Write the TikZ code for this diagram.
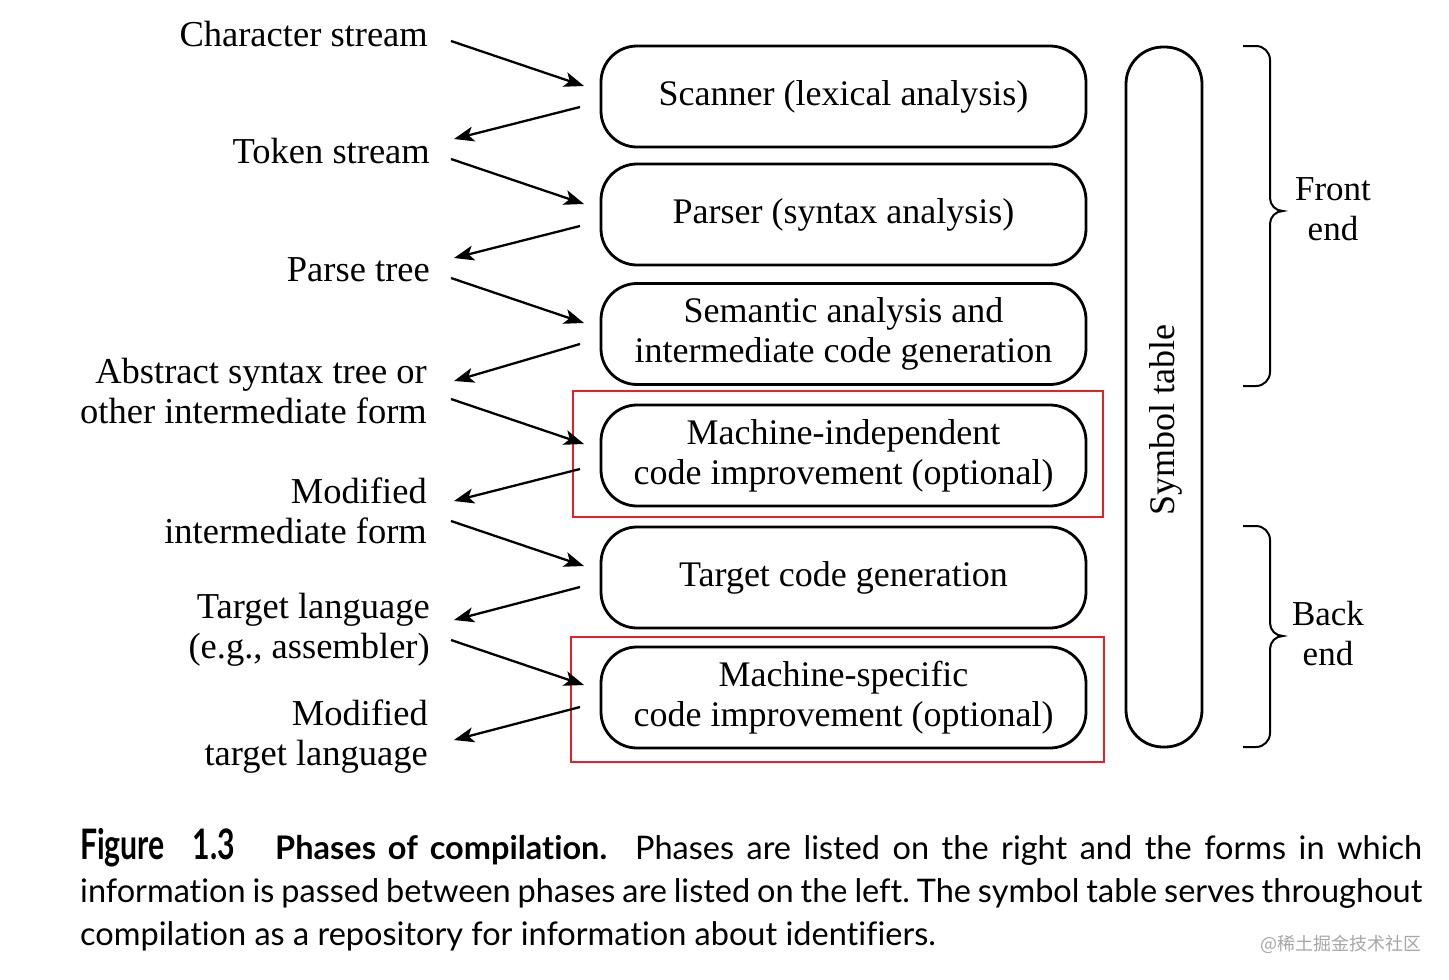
\documentclass[tikz,border=0pt]{standalone}
\usepackage{fontspec}
\setmainfont{Liberation Serif}
\newfontfamily\capfont[Ligatures=NoCommon]{Lato}
\newfontfamily\figfont[FakeStretch=0.72]{Lato}
\newfontfamily\cjkfont{Noto Sans CJK SC}
\usetikzlibrary{arrows.meta}
\definecolor{hlred}{RGB}{228,32,40}
\frenchspacing
\begin{document}
\begin{tikzpicture}[x=1pt,y=-1pt,
  phase/.style={draw,line width=2.8pt,rounded corners=36pt,minimum width=485pt,minimum height=101pt,align=center,inner sep=0pt,font=\fontsize{36}{40}\selectfont},
  lbl/.style={anchor=east,align=right,inner sep=0pt,font=\fontsize{36.5}{40}\selectfont},
  flow/.style={line width=2.3pt,-{Stealth[length=20pt,width=15pt,inset=5pt]}},
  hl/.style={draw=hlred,line width=2.2pt},
  brace/.style={line width=2pt},
  side/.style={align=center,inner sep=0pt,font=\fontsize{35}{40}\selectfont},
  capline/.style={anchor=base west,inner sep=0pt,font=\fontsize{32.5}{43}\selectfont\capfont}]
\useasboundingbox (0,0) rectangle (1449,980);
% phases
\node[phase] (scan) at (843.5,96.5) {Scanner (lexical analysis)};
\node[phase] (parse) at (843.5,214.5) {Parser (syntax analysis)};
\node[phase] (sem) at (843.5,334) {Semantic analysis and\\intermediate code generation};
\node[phase] (mind) at (843.5,455.5) {Machine-independent\\code improvement (optional)};
\node[phase] (tgt) at (843.5,577.5) {Target code generation};
\node[phase] (mspec) at (843.5,697.5) {Machine-specific\\code improvement (optional)};
% highlight rectangles
\node[hl,minimum width=530pt,minimum height=126pt] (hl1) at (838,454) {};
\node[hl,minimum width=533pt,minimum height=125pt] (hl2) at (837.5,699.5) {};
% symbol table
\node[draw,line width=2.8pt,rounded corners=37pt,minimum width=76pt,minimum height=700pt] (sym) at (1164,397) {};
\node[rotate=90,font=\fontsize{36}{40}\selectfont] (symt) at (1166,420) {Symbol table};
% labels
\node[lbl] (l1) at (428,34) {Character stream};
\node[lbl] (l2) at (430,151) {Token stream};
\node[lbl] (l3) at (430,270) {Parse tree};
\node[lbl] (l4) at (427,391) {Abstract syntax tree or\\other intermediate form};
\node[lbl] (l5) at (427,511) {Modified\\intermediate form};
\node[lbl] (l6) at (430,630) {Target language\\(e.g., assembler)};
\node[lbl] (l7) at (428,737) {Modified\\target language};
% arrow end points
\foreach \i/\dy in {1/0,2/118,3/237,4/358,5/480,6/599}{
  \coordinate (in\i s) at (451,41+\dy);
  \coordinate (in\i e) at (584,86+\dy);
}
\foreach \i/\ya/\yb in {1/107/139,2/226/258,3/344/381,4/469/501,5/587/620,6/707/740}{
  \coordinate (out\i s) at (580,\ya);
  \coordinate (out\i e) at (454,\yb);
}
\foreach \i in {1,...,6}{
  \draw[flow] (in\i s) -- (in\i e);
  \draw[flow] (out\i s) -- (out\i e);
}
% braces
\draw[brace] (1243,46) -- (1256,46) to[out=0,in=90] (1270,60) -- (1270,198) to[out=-90,in=180] (1283,211) to[out=180,in=90] (1270,224) -- (1270,372) to[out=-90,in=0] (1256,386) -- (1243,386);
\draw[brace] (1243,526) -- (1256,526) to[out=0,in=90] (1270,540) -- (1270,623) to[out=-90,in=180] (1283,636) to[out=180,in=90] (1270,649) -- (1270,733) to[out=-90,in=0] (1256,747) -- (1243,747);
\node[side] (fe) at (1333,209) {Front\\end};
\node[side] (be) at (1328,634) {Back\\end};
% caption
\node[capline] (cap1) at (80,859)
  {\makebox[1342pt][s]{{\figfont\bfseries\fontsize{42}{43}\selectfont Figure\hspace{28pt}1.3}\hspace{40pt}{\bfseries Phases of compilation.}\hspace{28pt}Phases are listed on the right and the forms in which}};
\node[capline] (cap2) at (80,902)
  {\makebox[1342pt][s]{information is passed between phases are listed on the left. The symbol table serves throughout}};
\node[capline] (cap3) at (80,945)
  {compilation as a repository for information about identifiers.};
\node[anchor=base east,inner sep=0pt,text=black!35,font=\fontsize{18}{20}\selectfont\cjkfont] (wm) at (1422,950) {@稀土掘金技术社区};
\end{tikzpicture}
\end{document}
